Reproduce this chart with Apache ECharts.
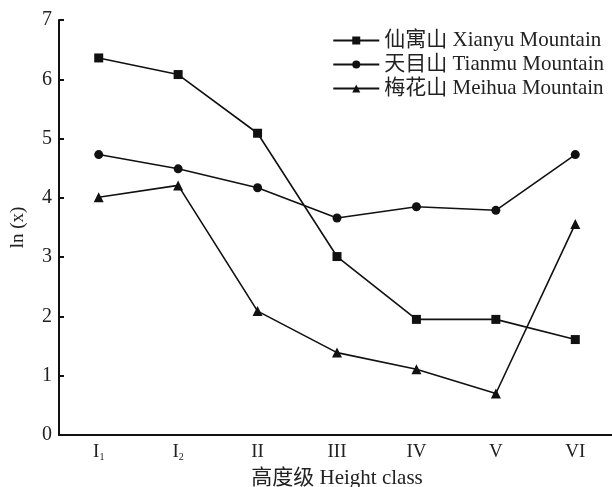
<!DOCTYPE html>
<html><head><meta charset="utf-8">
<script src="https://cdn.jsdelivr.net/npm/echarts@6/dist/echarts.min.js"></script>
<style>html,body{margin:0;padding:0;background:#fff}#c{width:612px;height:487px}</style>
</head><body><div id="c"></div>
<script>
const categories = ['I1','I2','II','III','IV','V','VI'];
const seriesNames = ['仙寓山 Xianyu Mountain','天目山 Tianmu Mountain','梅花山 Meihua Mountain'];
const xianyu = [6.36, 6.08, 5.09, 3.01, 1.95, 1.95, 1.61];
const tianmu = [4.73, 4.49, 4.17, 3.66, 3.85, 3.79, 4.73];
const meihua = [4.01, 4.21, 2.09, 1.39, 1.11, 0.70, 3.56];
const yTicks = [0,1,2,3,4,5,6,7];

const FONT = "'Liberation Serif','Times New Roman','Noto Sans CJK SC',serif";
const chart = echarts.init(document.getElementById('c'));
function mk(name, data, symbol, size){
  return {name, type:'line', data, symbol, symbolSize:size,
    lineStyle:{color:'#111', width:1.6}, itemStyle:{color:'#111'}, animation:false};
}
chart.setOption({
  animation:false,
  backgroundColor:'#fff',
  textStyle:{fontFamily:FONT, color:'#222'},
  grid:{left:59, top:20, width:556, bottom:52, containLabel:false, outerBoundsMode:'none'},
  legend:{orient:'vertical', right:3, top:25, itemWidth:46, itemHeight:10, itemGap:3,
    textStyle:{fontFamily:FONT, fontSize:21, color:'#222'},
    data:seriesNames},
  xAxis:{type:'category', data:categories, boundaryGap:true,
    name:'高度级 Height class', nameLocation:'middle', nameGap:33,
    nameTextStyle:{fontFamily:FONT, fontSize:21, color:'#222'},
    axisLine:{lineStyle:{color:'#111', width:2}},
    axisTick:{inside:true, alignWithLabel:true, length:5, lineStyle:{color:'#111', width:2}},
    axisLabel:{interval:0, margin:8, color:'#222', fontFamily:FONT, fontSize:19,
      formatter:function(v){
        if(v==='I1') return '{a|I}{s|1}';
        if(v==='I2') return '{a|I}{s|2}';
        return '{a|'+v+'}';
      },
      rich:{a:{fontFamily:FONT, fontSize:19, color:'#222'}, s:{fontFamily:FONT, fontSize:10, color:'#222', verticalAlign:'bottom', padding:[9,0,0,0]}}}
  },
  yAxis:{type:'value', min:0, max:7, interval:1,
    name:'ln (x)', nameLocation:'middle', nameGap:31, nameRotate:90,
    nameTextStyle:{fontFamily:FONT, fontSize:19, color:'#222'},
    axisLine:{show:true, lineStyle:{color:'#111', width:2}},
    axisTick:{show:true, inside:true, length:5, lineStyle:{color:'#111', width:2}},
    splitLine:{show:false},
    axisLabel:{margin:7, color:'#222', fontFamily:FONT, fontSize:20,
      formatter:function(v){ return yTicks.indexOf(v)>=0 ? String(v) : ''; }}
  },
  series:[
    mk(seriesNames[0], xianyu, 'rect', 9),
    mk(seriesNames[1], tianmu, 'circle', 9),
    mk(seriesNames[2], meihua, 'triangle', 10)
  ]
});
</script></body></html>
